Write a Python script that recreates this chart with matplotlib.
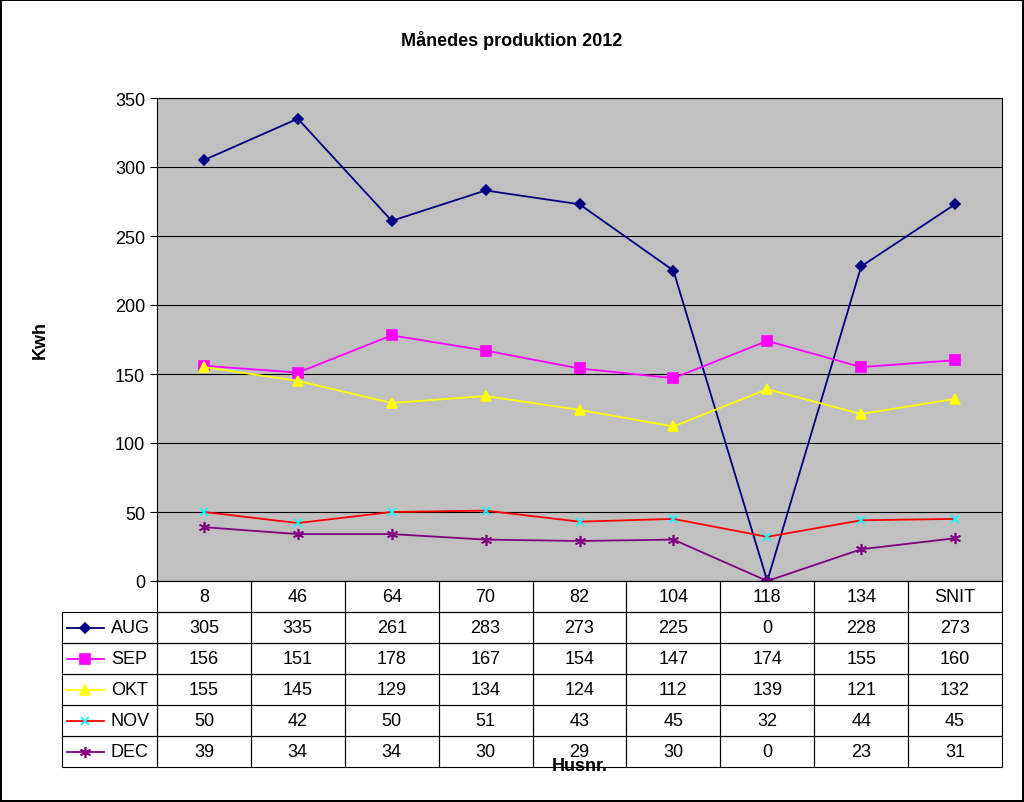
import numpy as np
import matplotlib.pyplot as plt
from matplotlib.lines import Line2D

plt.rcParams['font.family'] = ['Liberation Sans', 'DejaVu Sans']

husnr = ['8', '46', '64', '70', '82', '104', '118', '134', 'SNIT']
aug = [305, 335, 261, 283, 273, 225, 0, 228, 273]
sep = [156, 151, 178, 167, 154, 147, 174, 155, 160]
okt = [155, 145, 129, 134, 124, 112, 139, 121, 132]
nov = [50, 42, 50, 51, 43, 45, 32, 44, 45]
dec = [39, 34, 34, 30, 29, 30, 0, 23, 31]

series = [('AUG', aug, '#000080', 'D', 5),
          ('SEP', sep, '#FF00FF', 's', 7),
          ('OKT', okt, '#FFFF00', '^', 7),
          ('NOV', nov, '#FF0000', 'x', 6),
          ('DEC', dec, '#800080', (6, 2, 0), 8)]

W, H = 1024, 803
fig = plt.figure(figsize=(W / 100, H / 100), dpi=100)
fig.patch.set_edgecolor('black')
fig.patch.set_linewidth(1.5)
ax = fig.add_axes([157 / W, 1 - 582 / H, 845 / W, 483 / H])
ax.set_facecolor('#C0C0C0')

x = np.arange(len(husnr))
for name, vals, col, mk, ms in series:
    mec = '#00FFFF' if name == 'NOV' else col
    ax.plot(x, vals, color=col, marker=mk, markersize=ms, lw=1.3,
            markeredgecolor=mec, markerfacecolor=col, markeredgewidth=1.2)

ax.set_xlim(-0.5, len(husnr) - 0.5)
ax.set_ylim(0, 350)
ax.set_yticks(range(0, 351, 50))
ax.tick_params(axis='y', labelsize=13, length=5)
ax.set_xticks([])
ax.yaxis.grid(True, color='black', lw=0.8)
ax.set_axisbelow(True)
for s in ax.spines.values():
    s.set_color('black')

# table
ph = 483.0
rowh = 31 / ph
rows = [husnr] + [[str(v) for v in s[1]] for s in series]
for r, cells in enumerate(rows):
    y0 = -(r + 1) * rowh
    for c, txt in enumerate(cells):
        ax.add_patch(plt.Rectangle((c - 0.5, y0), 1, rowh, transform=ax.get_xaxis_transform(),
                                   fill=False, ec='black', lw=0.8, clip_on=False))
        ax.text(c, y0 + rowh / 2, txt, transform=ax.get_xaxis_transform(),
                ha='center', va='center', fontsize=13)
    if r > 0:
        name, vals, col, mk, ms = series[r - 1]
        lx0 = (62 - 157) / 845 * 9 - 0.5
        ax.add_patch(plt.Rectangle((lx0, y0), -0.5 - lx0, rowh, transform=ax.get_xaxis_transform(),
                                   fill=False, ec='black', lw=0.8, clip_on=False))
        mec = '#00FFFF' if name == 'NOV' else col
        ax.add_line(Line2D([lx0 + 0.05, lx0 + 0.45], [y0 + rowh / 2] * 2, color=col, lw=1.3,
                           transform=ax.get_xaxis_transform(), clip_on=False))
        ax.add_line(Line2D([lx0 + 0.25], [y0 + rowh / 2], marker=mk, markersize=ms, color=col,
                           markeredgecolor=mec, markeredgewidth=1.2,
                           transform=ax.get_xaxis_transform(), clip_on=False))
        ax.text(lx0 + 0.52, y0 + rowh / 2, name, transform=ax.get_xaxis_transform(),
                ha='left', va='center', fontsize=13)

fig.text(0.5, 1 - 40 / H, 'Månedes produktion 2012', ha='center', va='center',
         fontsize=13, fontweight='bold')
fig.text(40 / W, 1 - 340 / H, 'Kwh', rotation=90, ha='center', va='center',
         fontsize=13, fontweight='bold')
fig.text(580 / W, 1 - 767 / H, 'Husnr.', ha='center', va='center',
         fontsize=13, fontweight='bold')

fig.savefig('out.png', dpi=100, edgecolor=fig.get_edgecolor())
